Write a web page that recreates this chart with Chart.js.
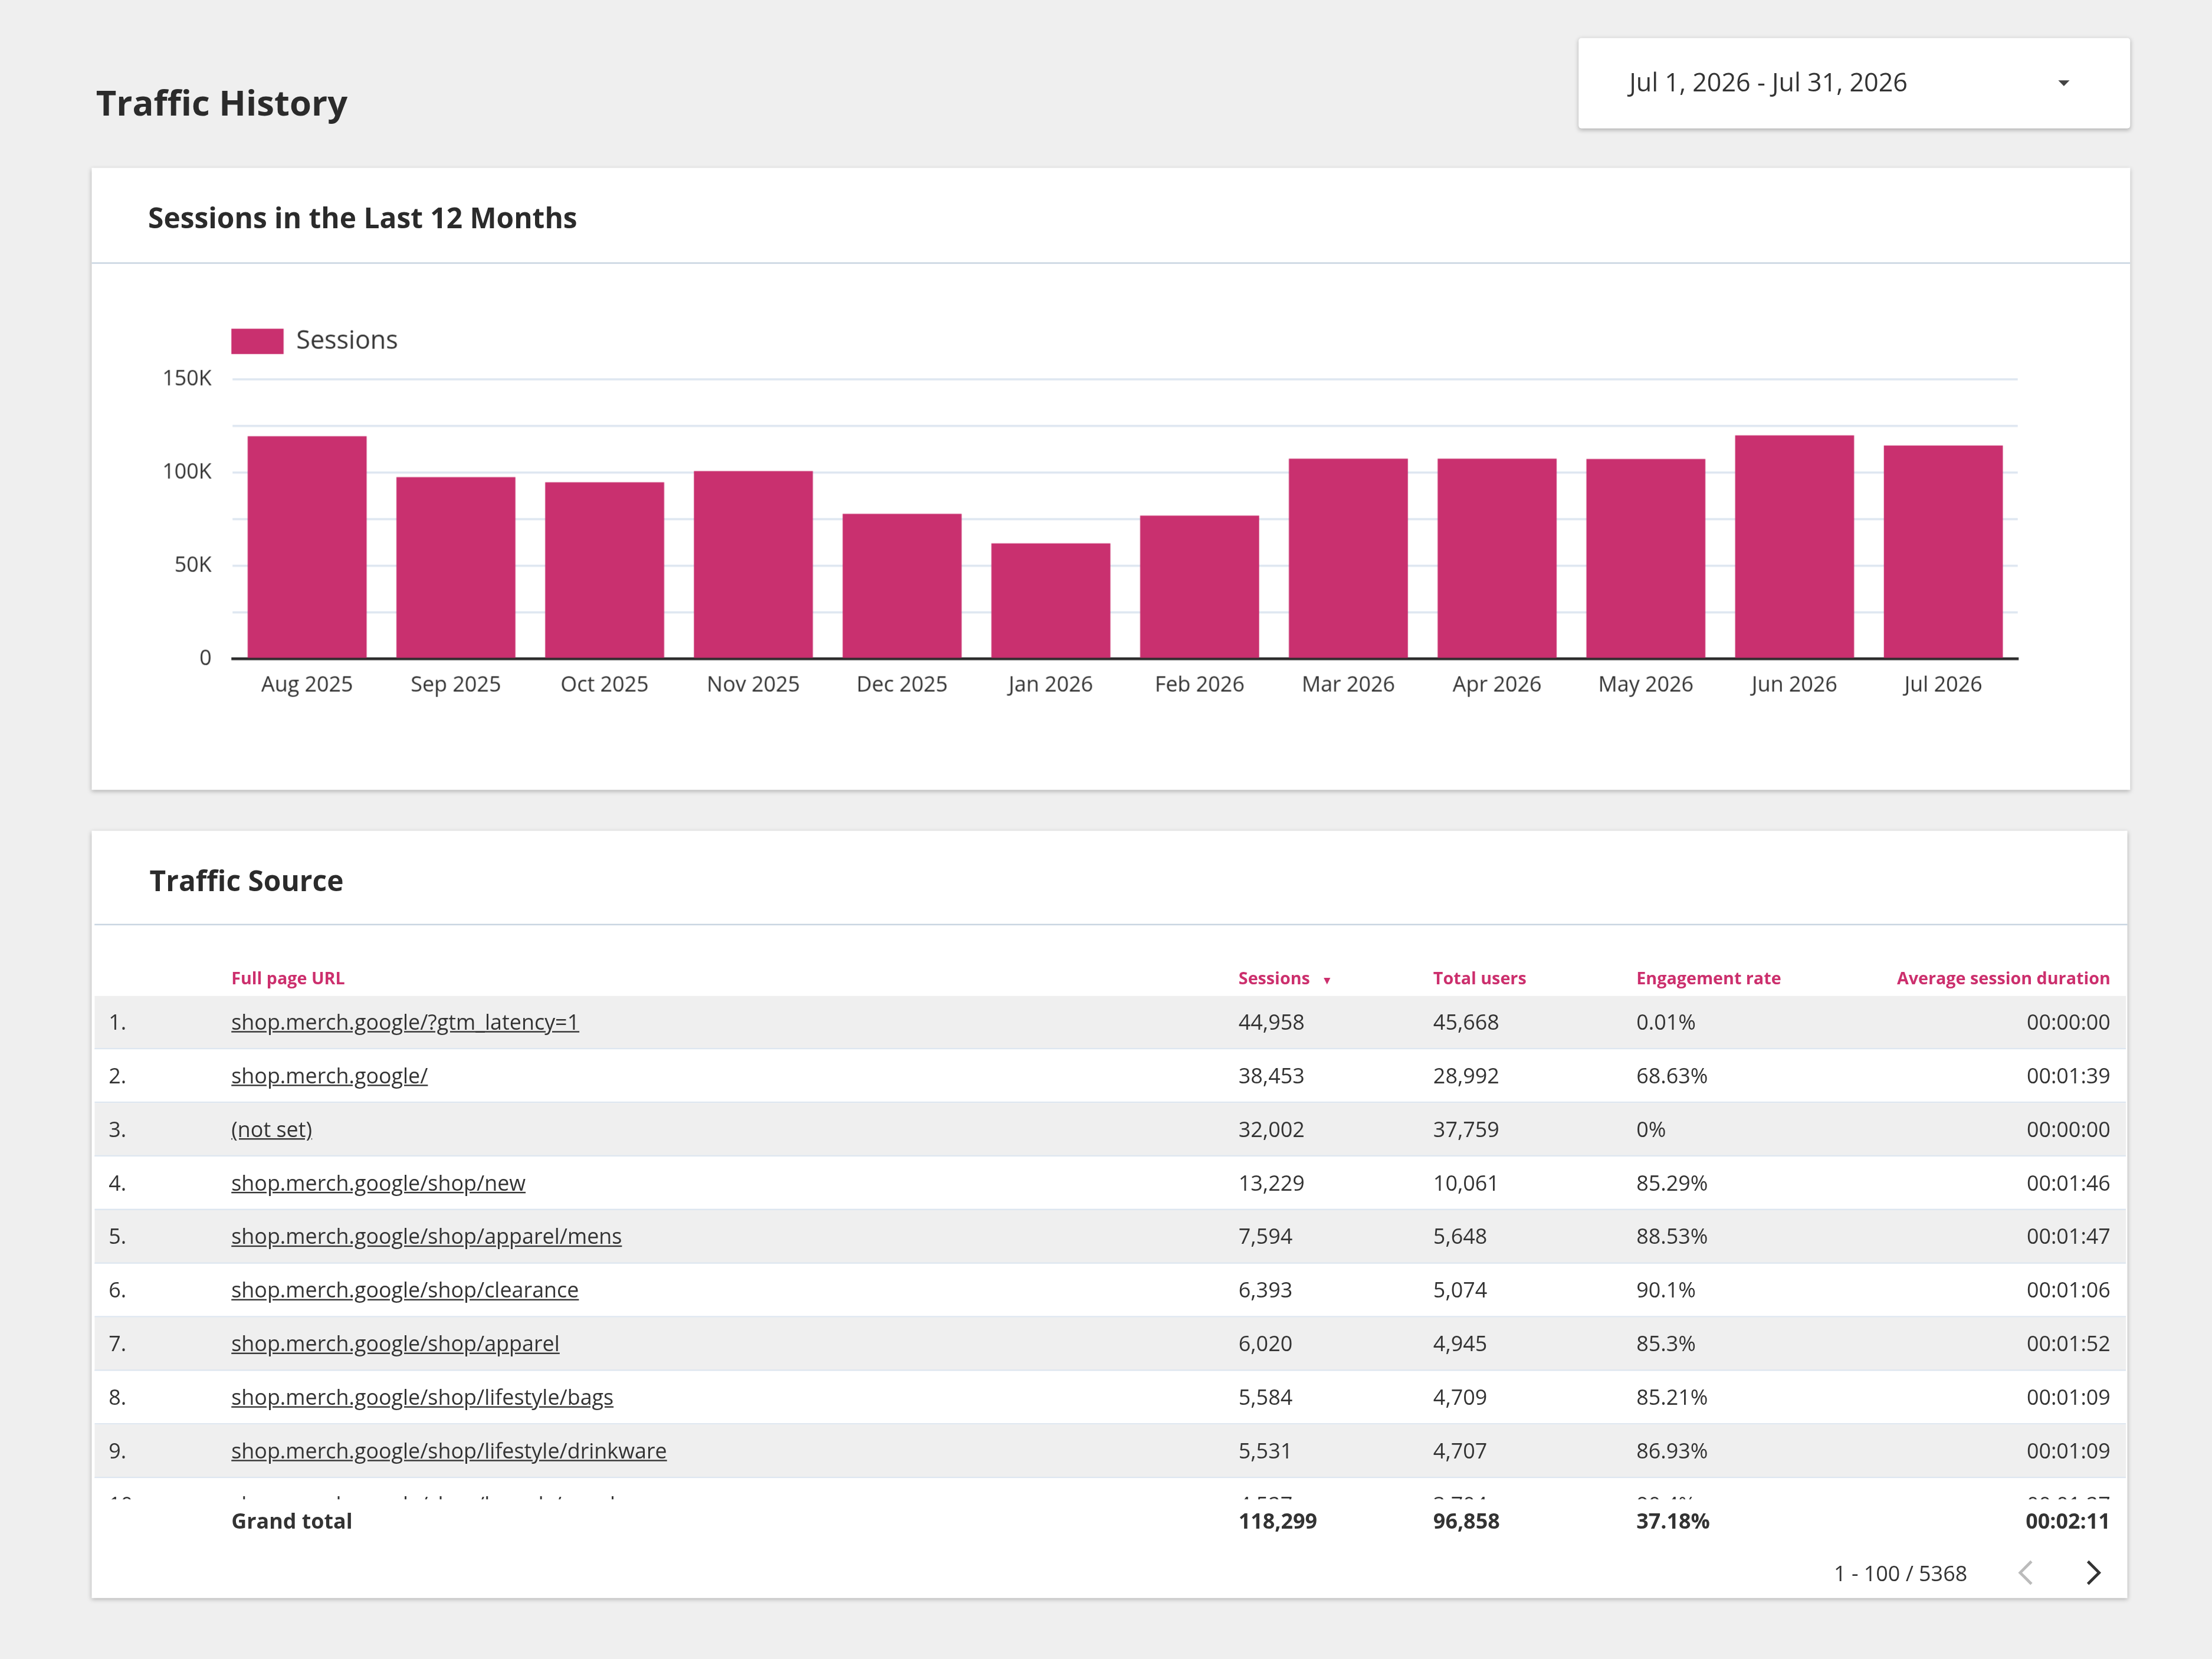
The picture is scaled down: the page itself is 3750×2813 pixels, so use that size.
<!DOCTYPE html>
<html><head><meta charset="utf-8">
<script src="https://cdn.jsdelivr.net/npm/chart.js@4.4.1/dist/chart.umd.min.js"></script>
<style>
html,body{margin:0;padding:0;background:#efefef;overflow:hidden;}
#page{position:absolute;left:0;top:0;width:1568px;height:1176px;transform:scale(2.3916);transform-origin:0 0;font-family:"Open Sans",sans-serif;color:#333;}
.abs{position:absolute;}
.card{position:absolute;background:#fff;box-shadow:0 1px 3px rgba(0,0,0,0.25);}
.hd{position:absolute;font-weight:700;font-size:20px;color:#2b2b2b;}
.div{position:absolute;left:0;right:0;height:1px;background:#c6d3e0;}
.th{position:absolute;top:96px;font-size:12px;font-weight:700;color:#cc2f6d;}
.row{position:absolute;left:0;right:0;height:37px;border-bottom:1px solid #dde6f0;font-size:15px;}
.row span{position:absolute;top:8px;}
.row a{color:#333;text-decoration:underline;}
.tot span{position:absolute;font-size:15px;font-weight:700;}
</style></head><body>
<div id="page">
  <div class="abs" style="left:68px;top:55px;font-size:25px;font-weight:700;color:#2b2b2b;">Traffic History</div>
  <div class="card" style="left:1119px;top:27px;width:391px;height:64px;border-radius:2px;">
    <div class="abs" style="left:36px;top:19px;font-size:18px;color:#333;">Jul 1, 2026 - Jul 31, 2026</div>
    <div class="abs" style="left:340px;top:30px;width:0;height:0;border-left:4px solid transparent;border-right:4px solid transparent;border-top:4px solid #444;"></div>
  </div>

  <div class="card" style="left:65px;top:119px;width:1445px;height:441px;">
    <div class="hd" style="left:40px;top:22px;">Sessions in the Last 12 Months</div>
    <div class="div" style="top:67px;"></div>
    <div class="abs" style="left:30px;top:104px;width:1350px;height:274px;"><canvas id="c"></canvas></div>
  </div>

  <div class="card" style="left:65px;top:589px;width:1443px;height:544px;">
    <div class="hd" style="left:41px;top:22px;">Traffic Source</div>
    <div class="div" style="top:66px;left:2px;"></div>
    <div class="th" style="left:99px;">Full page URL</div>
    <div class="th" style="left:813px;">Sessions <span style="font-size:8px;margin-left:5px;">&#9660;</span></div>
    <div class="th" style="left:951px;">Total users</div>
    <div class="th" style="left:1095px;">Engagement rate</div>
    <div class="th" style="right:12px;">Average session duration</div>
    <div id="tb" class="abs" style="left:2px;right:1px;top:117px;height:357px;overflow:hidden;"></div>
    <div class="tot">
      <span style="left:99px;top:479px;">Grand total</span>
      <span id="gs" style="left:813px;top:479px;"></span>
      <span id="gu" style="left:951px;top:479px;"></span>
      <span id="ge" style="left:1095px;top:479px;"></span>
      <span id="gd" style="right:12px;top:479px;"></span>
    </div>
    <div class="abs" style="left:1235px;top:516px;font-size:15px;">1 - 100 / 5368</div>
    <svg class="abs" style="left:1364px;top:516px;" width="16" height="20"><polyline points="11,2 3,10 11,18" fill="none" stroke="#bbb" stroke-width="2"/></svg>
    <svg class="abs" style="left:1411px;top:516px;" width="16" height="20"><polyline points="4,2 12,10 4,18" fill="none" stroke="#333" stroke-width="2"/></svg>
  </div>
</div>
<script>
const months=['Aug 2025','Sep 2025','Oct 2025','Nov 2025','Dec 2025','Jan 2026','Feb 2026','Mar 2026','Apr 2026','May 2026','Jun 2026','Jul 2026'];
const sessions=[119500,97600,94800,100800,77900,62000,76900,107500,107500,107300,120000,114500];

const urls=['shop.merch.google/?gtm_latency=1','shop.merch.google/','(not set)','shop.merch.google/shop/new','shop.merch.google/shop/apparel/mens','shop.merch.google/shop/clearance','shop.merch.google/shop/apparel','shop.merch.google/shop/lifestyle/bags','shop.merch.google/shop/lifestyle/drinkware','shop.merch.google/shop/brands/google'];
const rowSessions=['44,958','38,453','32,002','13,229','7,594','6,393','6,020','5,584','5,531','4,527'];
const rowUsers=['45,668','28,992','37,759','10,061','5,648','5,074','4,945','4,709','4,707','3,704'];
const rowEng=['0.01%','68.63%','0%','85.29%','88.53%','90.1%','85.3%','85.21%','86.93%','90.4%'];
const rowDur=['00:00:00','00:01:39','00:00:00','00:01:46','00:01:47','00:01:06','00:01:52','00:01:09','00:01:09','00:01:27'];
const total=['118,299','96,858','37.18%','00:02:11'];

document.getElementById('tb').innerHTML=urls.map((u,i)=>`
  <div class="row" style="top:${i*38}px;background:${i%2?'#fff':'#efefef'}">
    <span style="left:10px">${i+1}.</span>
    <span style="left:97px"><a>${u}</a></span>
    <span style="left:811px">${rowSessions[i]}</span>
    <span style="left:949px">${rowUsers[i]}</span>
    <span style="left:1093px">${rowEng[i]}</span>
    <span style="right:11px">${rowDur[i]}</span>
  </div>`).join('');
['gs','gu','ge','gd'].forEach((id,i)=>document.getElementById(id).textContent=total[i]);

// legend sits over the plot area, with a bit more room below it
const legendNudge={id:'legendNudge',
  afterInit(chart){
    const lg=chart.legend, fit=lg.fit;
    lg.fit=function(){fit.call(this);this.height+=8;};
  },
  afterLayout(chart){chart.legend.left+=59;chart.legend.right+=59;}
};

new Chart(document.getElementById('c'),{
  type:'bar',
  data:{labels:months,datasets:[{label:'Sessions',data:sessions,backgroundColor:'#c9306f',barPercentage:0.8,categoryPercentage:1}]},
  options:{
    responsive:true,maintainAspectRatio:false,animation:false,devicePixelRatio:2.3916,
    layout:{padding:{right:15}},
    plugins:{
      legend:{align:'start',labels:{boxWidth:37,boxHeight:18,color:'#333',font:{family:'Open Sans',size:18},padding:10}},
      tooltip:{enabled:false}
    },
    scales:{
      x:{grid:{display:false},border:{color:'#2b2b2b',width:2},
         ticks:{color:'#333',font:{family:'Open Sans',size:15},maxRotation:0,padding:2}},
      y:{min:0,max:150000,afterFit:s=>{s.width=70;},
         grid:{color:'#dde6f0',lineWidth:1.5,drawTicks:false},border:{display:false},
         ticks:{stepSize:25000,color:'#333',padding:15,font:{family:'Open Sans',size:15},
           callback:v=>v%50000?'':(v?v/1000+'K':'0')}}
    }
  },
  plugins:[legendNudge]
});
</script>
</body></html>
